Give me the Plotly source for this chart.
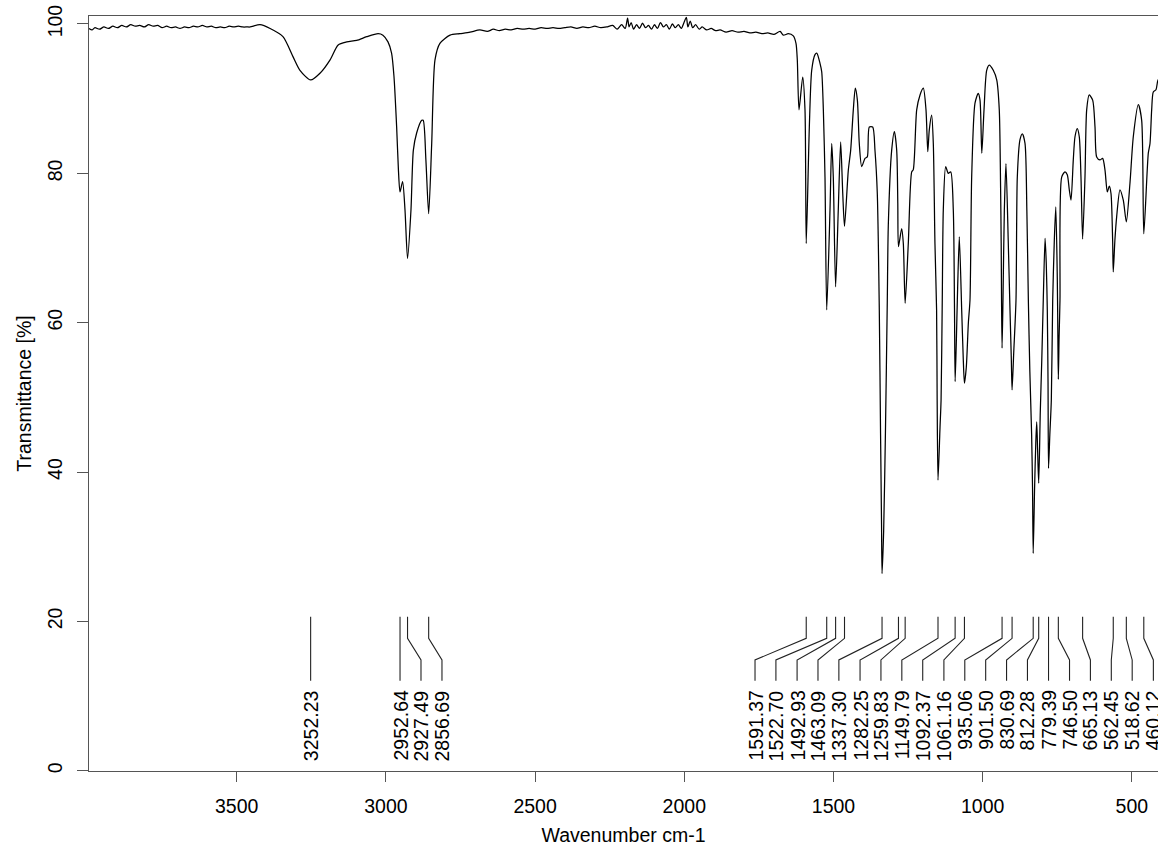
import plotly.graph_objects as go

# ---- spectrum ----
wavenumber = [
    3995, 3985, 3975, 3960, 3945, 3930, 3915, 3900, 3885, 3870, 3855, 3840, 3825, 3810,
    3795, 3780, 3765, 3750, 3735, 3720, 3705, 3690, 3675, 3660, 3645, 3630, 3615, 3600,
    3585, 3570, 3555, 3540, 3525, 3510, 3495, 3480, 3465, 3455,
    3422, 3388, 3345, 3311, 3288, 3252.23, 3221, 3187, 3160, 3131, 3098, 3064, 3026, 3010,
    2993, 2981, 2973, 2964, 2958, 2952.64, 2944, 2936, 2927.49, 2916, 2908, 2897, 2880,
    2875, 2866, 2856.69, 2846.5, 2835.5, 2819, 2785, 2752, 2718,
    2685, 2660, 2640, 2620, 2600, 2580, 2560, 2540, 2520, 2500, 2480, 2460, 2440, 2420,
    2400, 2380, 2360, 2340, 2320, 2300, 2280, 2260, 2240, 2225, 2210, 2198, 2190, 2185,
    2178, 2170, 2160, 2150, 2140, 2130, 2120, 2110, 2100, 2090, 2080, 2070, 2060, 2050,
    2040, 2030, 2020, 2010, 2000, 1993, 1988, 1980, 1972, 1962, 1950, 1940, 1925, 1910,
    1895, 1880, 1860, 1840, 1820, 1800, 1780, 1760, 1740, 1720, 1700,
    1679, 1668, 1651.5, 1634.7, 1625.7, 1621.3, 1615.6, 1603.2, 1595.5, 1591.37, 1581,
    1573, 1562, 1556, 1545, 1539.5, 1534, 1528.5, 1522.70, 1511.7, 1506, 1500.7, 1492.93,
    1484, 1476, 1469, 1463.09, 1450.4, 1442.4, 1433.6, 1427, 1420, 1413.6, 1405.5, 1394.4,
    1386.7, 1380, 1368.6, 1361, 1353.2, 1346.5, 1342.3, 1339, 1337.30, 1332, 1326, 1319.7,
    1316.4, 1305, 1296, 1288.2, 1284.5, 1282.25, 1271.5, 1266, 1259.83, 1249.3, 1237.9,
    1232.6, 1221.2, 1210, 1199, 1190, 1184, 1179, 1171, 1165.5, 1160, 1154.5, 1152.6,
    1149.79, 1143, 1139.5, 1135.5, 1132, 1124, 1115.3, 1107.2, 1098.5, 1094.5, 1092.37,
    1088, 1085, 1078.4, 1070.4, 1065, 1061.16, 1055, 1048, 1042.6, 1036.9, 1025.8, 1015,
    1009, 1003, 995.6, 986.6, 978, 964.5, 953, 944.4, 940, 938, 936.8, 935.06, 932, 927.5,
    922, 914.2, 908.5, 904, 901.50, 896, 888.4, 884, 875, 867, 858.2, 852, 847, 842, 836,
    833, 830.69, 826, 822, 819, 816, 812.28, 807, 802, 797, 791, 787, 783.5, 781, 779.39,
    775, 770, 765.4, 760, 755, 750, 748, 746.50, 744, 741, 735.3, 724.2, 716.5, 709.8, 704,
    696.4, 690.7, 683, 676.3, 670.6, 665.13, 657.2, 651.5, 643, 631.4, 623.6, 618, 607,
    598, 590, 582.4, 575.7, 570, 564.5, 562.45, 557, 551, 540, 528.8, 518.62, 506.4, 495.3,
    478.5, 467.2, 460.12, 445, 439.3, 433.7, 428.3, 419.2, 412.5, 400,
]
transmittance = [
    99.4, 99.2, 99.5, 99.3, 99.6, 99.4, 99.7, 99.5, 99.8, 99.6, 99.9, 99.7, 99.8, 99.6,
    99.9, 99.7, 99.8, 99.5, 99.7, 99.5, 99.6, 99.4, 99.6, 99.5, 99.7, 99.6, 99.8, 99.6,
    99.7, 99.5, 99.6, 99.5, 99.7, 99.6, 99.7, 99.6, 99.6, 99.6,
    99.9, 99.4, 98.3, 95.6, 93.8, 92.5, 93.4, 95.2, 97.2, 97.6, 97.8, 98.3, 98.7, 98.5,
    97.6, 96.1, 93.0, 86.2, 80.4, 77.5, 78.9, 75.1, 68.6, 75.1, 83.1, 85.4, 87.1,
    87.1, 81.8, 74.6, 84.0, 95.2, 97.4, 98.5, 98.7, 98.9,
    99.2, 99.0, 99.3, 99.1, 99.3, 99.2, 99.4, 99.3, 99.4, 99.3, 99.5, 99.4, 99.5, 99.4,
    99.5, 99.6, 99.4, 99.6, 99.5, 99.7, 99.5, 99.6, 99.8, 99.3, 99.9, 99.4, 100.8, 99.6,
    100.2, 99.3, 99.9, 99.4, 100.1, 99.5, 99.8, 99.3, 99.9, 99.4, 100.2, 99.6, 99.9, 99.3,
    100.0, 99.5, 99.9, 99.4, 100.3, 100.9, 99.6, 100.4, 99.5, 99.9, 99.3, 99.6, 99.2, 99.4,
    99.1, 99.2, 98.9, 99.1, 98.9, 99.0, 98.8, 98.9, 98.7, 98.8, 98.6,
    99.0, 98.5, 98.7, 98.4, 97.4, 95.2, 88.5, 92.9, 88.5, 70.6, 86.2,
    93.8, 95.9, 96.1, 94.7, 93.6, 88.5, 79.5, 61.7, 75.1, 84.0, 79.5, 64.8,
    75.1, 84.2, 77.3, 72.9, 80.4, 83.1, 88.5, 91.4, 89.8, 84.0, 80.9, 82.0,
    82.2, 86.2, 86.2, 83.1, 77.3, 61.7, 45.2, 33.0, 26.4, 32.0, 45.2, 63.0,
    72.9, 83.1, 85.6, 83.1, 76.0, 70.2, 72.6, 70.6, 62.6, 70.6, 80.2,
    80.5, 88.5, 90.5, 91.4, 88.5, 82.9, 85.8, 87.8, 84.0, 70.6, 61.7, 49.6,
    38.9, 46.0, 49.6, 63.0, 75.1, 80.9, 80.0, 80.2, 75.1, 62.0, 52.1,
    58.0, 63.0, 71.5, 61.7, 55.0, 51.9, 54.0, 60.0, 63.0, 79.5, 89.4, 90.7,
    89.8, 82.7, 88.5, 93.8, 94.5, 93.8, 92.5, 88.5, 78.0, 70.6, 63.0, 56.6, 63.0, 75.0,
    81.3, 70.6, 61.7, 55.0, 51.0, 56.0, 63.0, 79.5, 84.5, 85.3, 84.0, 75.0, 63.0, 53.5, 45.0,
    38.0, 29.1, 38.0, 44.0, 46.7, 43.0, 38.5, 48.0, 55.0, 63.0, 71.3, 68.0, 61.7, 52.0, 40.5,
    45.0, 49.6, 63.0, 71.0, 75.5, 66.0, 58.0, 52.4, 58.0, 63.0, 79.5, 80.2, 79.8, 77.8, 76.4,
    81.8, 84.9, 86.0, 84.9, 79.5, 71.2, 79.5, 88.5, 90.5, 89.8, 86.2, 82.2, 81.8,
    82.0, 80.4, 77.5, 78.3, 77.3, 71.0, 66.8, 71.0, 74.2, 77.8, 76.4, 73.5, 78.7, 84.9,
    89.2, 87.1, 71.9, 82.7, 84.0, 88.5, 90.9, 91.2, 92.5, 93.0,
]

# ---- peak annotations ----
peak_wn = [3252.23, 2952.64, 2927.49, 2856.69, 1591.37, 1522.70, 1492.93, 1463.09,
           1337.30, 1282.25, 1259.83, 1149.79, 1092.37, 1061.16, 935.06, 901.50,
           830.69, 812.28, 779.39, 746.50, 665.13, 562.45, 518.62, 460.12]
label_wn = [3252.23, 2952.64, 2882.4, 2812.1, 1763, 1693, 1622, 1552, 1482, 1411,
            1341, 1271, 1201, 1130, 1060, 990, 920, 850, 779.4, 709, 639, 569, 499, 428]
peak_text = ["%.2f" % p for p in peak_wn]

x_ticks = [3500, 3000, 2500, 2000, 1500, 1000, 500]
y_ticks = [0, 20, 40, 60, 80, 100]

# leader line levels (in transmittance units)
y_top, y_bend1, y_bend2, y_bottom, y_text = 20.62, 17.73, 14.83, 12.05, 10.94

lx, ly = [], []
for p, l in zip(peak_wn, label_wn):
    lx += [p, p, l, l, None]
    ly += [y_top, y_bend1, y_bend2, y_bottom, None]

FONT = "Liberation Sans, Arial, Helvetica, sans-serif"

fig = go.Figure()
fig.add_trace(go.Scatter(x=wavenumber, y=transmittance, mode="lines",
                         line=dict(color="black", width=1.25, shape="spline", smoothing=0.7),
                         hoverinfo="skip"))
fig.add_trace(go.Scatter(x=lx, y=ly, mode="lines",
                         line=dict(color="#222222", width=1.1), hoverinfo="skip"))

for l, t in zip(label_wn, peak_text):
    fig.add_annotation(x=l, y=y_text, xref="x", yref="y", text=t, textangle=-90,
                       showarrow=False, xanchor="center", yanchor="top",
                       font=dict(family=FONT, size=19.5, color="black"),
                       borderpad=0)

fig.update_layout(
    width=1158, height=847,
    margin=dict(l=89, r=0, t=16, b=76, autoexpand=False),
    paper_bgcolor="white", plot_bgcolor="white",
    showlegend=False,
    font=dict(family=FONT, size=19.5, color="black"),
)
fig.update_xaxes(
    range=[3995, 412.5], tickvals=x_ticks, ticks="outside", ticklen=10,
    tickcolor="#555555", tickwidth=1.2, showline=True, linecolor="#555555",
    linewidth=1.2, mirror=True, showgrid=False, zeroline=False, automargin=False,
    ticklabelstandoff=7,
    tickfont=dict(family=FONT, size=19.5, color="black"),
    title=dict(text="Wavenumber cm-1", standoff=12,
               font=dict(family=FONT, size=19.5, color="black")),
)
fig.update_yaxes(
    range=[-0.04, 101.07], tickvals=y_ticks, ticks="outside", ticklen=11,
    tickangle=-90, tickcolor="#555555", tickwidth=1.2, showline=True,
    linecolor="#555555", linewidth=1.2, mirror=False, showgrid=False,
    zeroline=False, automargin=False, ticklabelstandoff=7,
    tickfont=dict(family=FONT, size=19.5, color="black"),
    title=dict(text="Transmittance [%]", standoff=7,
               font=dict(family=FONT, size=19.5, color="black")),
)

# remove the browser's default 8px body margin so the figure fills the window exactly
fig.write_html(
    "out.html",
    config={"displayModeBar": False},
    post_script="document.body.style.margin='0';document.body.style.overflow='hidden';",
)
